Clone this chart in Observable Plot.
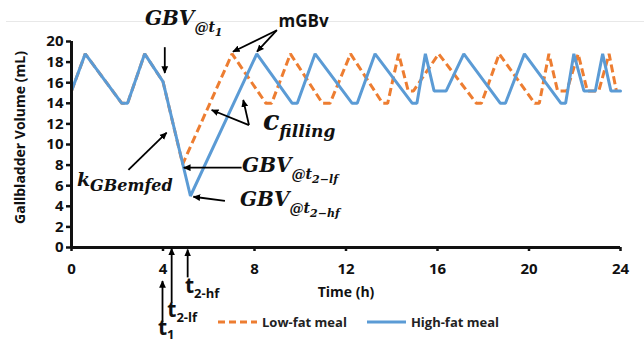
<!DOCTYPE html>
<html>
<head>
<meta charset="utf-8">
<script src="https://cdn.jsdelivr.net/npm/d3@7"></script>
<script src="https://cdn.jsdelivr.net/npm/@observablehq/plot@0.6"></script>
<style>
  html, body { margin: 0; padding: 0; background: #fff; }
  #chart { position: relative; width: 644px; height: 344px; overflow: hidden; font-family: "Open Sans", sans-serif; }
  #chart .topline { position: absolute; left: 6px; right: 0; top: 21px; height: 1px; background: #e8e8e8; }
  #chart svg { position: absolute; left: 0; top: 0; }
  .legend { position: absolute; top: 313px; left: 218px; display: flex; align-items: center; font: 700 13px "Open Sans", sans-serif; color: #222; }
  .legend .item { display: flex; align-items: center; }
  .legend svg { position: static !important; margin-right: 5px; }
</style>
</head>
<body>
<div id="chart"><div class="topline"></div></div>
<script>
// Gallbladder volume over a day: vertices of each simulated curve (h, mL)
const lowFatTime   = [0, 0.6, 2.2, 2.45, 3.2, 4.0, 4.86, 7.02, 8.5, 8.75, 9.57, 10.97, 11.3, 12.2, 13.6, 13.82, 14.3, 14.72, 14.95, 16.05, 17.7, 17.92, 18.7, 20.25, 20.45, 20.87, 21.25, 21.65, 22.15, 22.55, 23.05, 23.5, 23.82];
const lowFatVolume = [15.2, 18.8, 14.0, 14.0, 18.8, 16.1, 8.1, 18.8, 14.0, 14.0, 18.8, 14.0, 14.0, 18.8, 14.0, 14.0, 18.8, 15.2, 15.2, 18.8, 14.0, 14.0, 18.8, 14.0, 14.0, 18.8, 15.2, 15.2, 18.8, 15.2, 15.2, 18.8, 15.2];

const highFatTime   = [0, 0.6, 2.2, 2.45, 3.2, 4.0, 5.2, 8.1, 9.65, 9.87, 10.65, 12.27, 12.49, 13.27, 14.9, 15.1, 15.47, 15.85, 16.38, 17.15, 18.75, 18.97, 19.8, 21.4, 21.6, 21.96, 22.4, 22.9, 23.22, 23.58, 24];
const highFatVolume = [15.2, 18.8, 14.0, 14.0, 18.8, 16.1, 5.0, 18.8, 14.0, 14.0, 18.8, 14.0, 14.0, 18.8, 14.0, 14.0, 18.8, 15.2, 15.2, 18.8, 14.0, 14.0, 18.8, 14.0, 14.0, 18.8, 15.2, 15.2, 18.8, 15.2, 15.2];

const xTicks = [0, 4, 8, 12, 16, 20, 24];
const yTicks = [0, 2, 4, 6, 8, 10, 12, 14, 16, 18, 20];
const seriesNames = ["Low-fat meal", "High-fat meal"];
const xLabel = "Time (h)";
const yLabel = "Gallbladder Volume (mL)";

const orange = "#ed7d31";
const blue = "#5b9bd5";

const lowFat = lowFatTime.map((t, i) => ({t, v: lowFatVolume[i]}));
const highFat = highFatTime.map((t, i) => ({t, v: highFatVolume[i]}));

// Annotation call-outs in data units: [x1, y1, x2, y2] (tail -> head)
const callouts = [
  [4.1, 19.4, 4.1, 16.9],     // GBV@t1
  [9.0, 21.05, 7.08, 18.96],  // mGBv -> low-fat peak
  [9.0, 21.05, 8.13, 18.96],  // mGBv -> high-fat peak
  [7.78, 11.84, 6.15, 13.3],  // c_filling -> low-fat rise
  [7.78, 11.84, 7.53, 14.27], // c_filling -> high-fat rise
  [2.51, 7.48, 4.18, 11.1],   // k_GBemfed
  [7.46, 7.7, 4.93, 7.7],     // GBV@t2-lf
  [6.73, 4.47, 5.35, 4.88],   // GBV@t2-hf
  [4.0, -7.3, 4.0, -3.3],     // t1
  [4.4, -5.45, 4.4, -0.15],   // t2-lf
  [5.1, -2.95, 5.1, -0.25]    // t2-hf
];

// Math-style labels: anchor (data units) and runs of [text, font size, baseline shift]
const mathFont = '"DejaVu Serif", serif';
const mathLabels = [
  {t: 3.23, v: 21.55, runs: [["GBV", 20, 0], ["@t", 14, 7], ["1", 11, 4]]},
  {t: 8.39, v: 11.36, runs: [["c", 27, 0], ["filling", 17, 7]]},
  {t: 0.26, v: 5.92, runs: [["k", 19, 0], ["GBemfed", 16, 5]]},
  {t: 7.48, v: 7.28, runs: [["GBV", 20, 0], ["@t", 14, 7], ["2−lf", 11, 4]]},
  {t: 7.39, v: 4.0, runs: [["GBV", 20, 0], ["@t", 14, 7], ["2−hf", 11, 4]]}
];
const timeLabels = [
  {t: 3.8, v: -8.5, runs: [["t", 21, 0], ["1", 13, 4]]},
  {t: 4.21, v: -6.77, runs: [["t", 21, 0], ["2-lf", 13, 5]]},
  {t: 4.98, v: -4.5, runs: [["t", 21, 0], ["2-hf", 13, 5]]}
];
const plainLabels = [{t: 9.05, v: 21.39, text: "mGBv"}];

const plot = Plot.plot({
  width: 644,
  height: 344,
  marginLeft: 71,
  marginRight: 24,
  marginTop: 41,
  marginBottom: 97,
  x: {domain: [0, 24]},
  y: {domain: [0, 20]},
  style: {fontFamily: '"Open Sans", sans-serif', fontWeight: 700, fontSize: "15px", color: "#111", background: "transparent", overflow: "visible"},
  marks: [
    Plot.axisY({ticks: yTicks, tickSize: 5, tickPadding: 3, strokeWidth: 2.5, tickFormat: d => String(d), label: null}),
    Plot.axisX({ticks: xTicks, tickSize: 4, tickPadding: 12, strokeWidth: 2.5, tickFormat: d => String(d), label: null}),
    Plot.line(lowFat, {x: "t", y: "v", stroke: orange, strokeWidth: 3, strokeDasharray: "8,4", strokeLinejoin: "miter", strokeLinecap: "butt"}),
    Plot.line(highFat, {x: "t", y: "v", stroke: blue, strokeWidth: 3, strokeLinejoin: "miter"}),
    Plot.ruleX([0], {y1: 0, y2: 20, stroke: "#111", strokeWidth: 3}),
    Plot.ruleY([0], {x1: 0, x2: 24, stroke: "#111", strokeWidth: 3}),
    Plot.text([xLabel], {frameAnchor: "bottom", dy: 49, text: d => d, fontSize: 14, fontWeight: 700}),
    Plot.text([yLabel], {frameAnchor: "left", textAnchor: "middle", dx: -51, dy: -7, rotate: -90, text: d => d, fontSize: 14, fontWeight: 700}),
    Plot.text(plainLabels, {x: "t", y: "v", text: "text", textAnchor: "start", lineAnchor: "bottom", fontSize: 17, fontWeight: 700})
  ]
});

const sx = plot.scale("x");
const sy = plot.scale("y");
const svg = d3.select(plot);

// filled arrowheads for the call-outs
svg.append("defs").append("marker")
  .attr("id", "callout-head")
  .attr("viewBox", "0 0 10 10")
  .attr("refX", 9).attr("refY", 5)
  .attr("markerWidth", 4.2).attr("markerHeight", 4.2)
  .attr("orient", "auto")
  .append("path").attr("d", "M0,0.5L10,5L0,9.5z").attr("fill", "#000");

svg.append("g").selectAll("line").data(callouts).join("line")
  .attr("x1", d => sx.apply(d[0])).attr("y1", d => sy.apply(d[1]))
  .attr("x2", d => sx.apply(d[2])).attr("y2", d => sy.apply(d[3]))
  .attr("stroke", "#000").attr("stroke-width", 1.8)
  .attr("marker-end", "url(#callout-head)");

function richText(labels, family, style) {
  const g = svg.append("g").attr("text-anchor", "start");
  for (const lab of labels) {
    const txt = g.append("text")
      .attr("x", sx.apply(lab.t)).attr("y", sy.apply(lab.v))
      .attr("text-anchor", "start")
      .attr("font-family", family).attr("font-weight", 700)
      .attr("font-style", style).attr("fill", "#111");
    for (const [s, size, dy] of lab.runs) {
      txt.append("tspan").attr("font-size", size).attr("dy", dy).text(s);
    }
  }
}
richText(mathLabels, mathFont, "italic");
richText(timeLabels, '"Open Sans", sans-serif', "normal");

document.getElementById("chart").appendChild(plot);

// legend below the axis
const legend = d3.select("#chart").append("div").attr("class", "legend");
const swatches = [{name: seriesNames[0], color: orange, dash: "7,4", gap: 0}, {name: seriesNames[1], color: blue, dash: null, gap: 20}];
for (const s of swatches) {
  const item = legend.append("div").attr("class", "item").style("margin-left", s.gap + "px");
  const sw = item.append("svg").attr("width", 39).attr("height", 6);
  sw.append("line").attr("x1", 0).attr("x2", 39).attr("y1", 3).attr("y2", 3)
    .attr("stroke", s.color).attr("stroke-width", 3).attr("stroke-dasharray", s.dash);
  item.append("span").text(s.name);
}
</script>
</body>
</html>
